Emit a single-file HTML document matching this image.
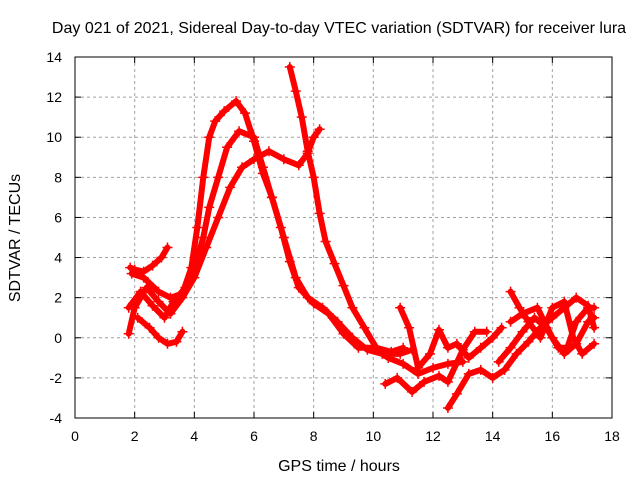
<!DOCTYPE html>
<html><head><meta charset="utf-8"><style>
body{margin:0;background:#fff}
svg{display:block;font-family:"Liberation Sans",sans-serif}
</style></head><body>
<svg id="chart" width="640" height="480">
<text x="339" y="33" text-anchor="middle" font-size="16">Day 021 of 2021, Sidereal Day-to-day VTEC variation (SDTVAR) for receiver lura</text>
<text x="339" y="471" text-anchor="middle" font-size="16">GPS time / hours</text>
<text transform="translate(20,238) rotate(-90)" text-anchor="middle" font-size="16">SDTVAR / TECUs</text>
<g id="grid"></g><g id="marks"></g>
<rect x="75" y="57" width="537" height="361" fill="none" stroke="#000" stroke-width="1"/>
<g id="ticks"></g>
</svg>
<script>
const xTicks=[0,2,4,6,8,10,12,14,16,18];
const yTicks=[-4,-2,0,2,4,6,8,10,12,14];
const t1=[[1.85,3.5],[2.0,3.4],[2.3,3.3],[2.6,3.6],[2.9,4],[3.1,4.5]];
const t2=[[1.8,1.5],[2.2,2.3],[2.6,1.6],[3.0,1.0],[3.3,1.8],[3.7,2.5],[4,3.5],[4.3,5],[4.5,6.5],[4.8,8],[5.1,9.5],[5.5,10.3],[6,10],[6.3,8.5],[6.6,7],[7,5],[7.4,3],[7.8,2],[8.3,1.5],[8.8,0.8],[9.3,0],[9.8,-0.6],[10.3,-0.8],[10.9,-0.8],[11.3,-0.6]];
const t3=[[1.9,3.2],[2.3,3.0],[2.8,2.3],[3.2,2.0],[3.6,2.2],[3.9,3.5],[4.1,5.5],[4.3,8],[4.5,10],[4.7,10.8],[5.0,11.3],[5.4,11.8],[5.7,11.2],[6.0,9.8],[6.3,8.2],[6.6,7],[6.9,5.5],[7.2,3.8],[7.5,2.5],[8,1.7],[8.5,1.2],[9,0.2],[9.5,-0.5],[10,-0.5],[10.5,-1],[11,-1.3],[11.5,-1.8],[12,-1.5],[12.5,-1.3],[13,-1.2]];
const t4=[[1.8,0.2],[2.0,1.5],[2.4,2.5],[2.8,1.8],[3.2,1.2],[3.6,2.0],[4,3],[4.4,4.5],[4.8,6],[5.2,7.5],[5.6,8.5],[6,8.9],[6.5,9.3],[7,8.9],[7.5,8.6],[7.8,9.2],[8,10],[8.2,10.4]];
const t5=[[7.2,13.5],[7.4,12.3],[7.6,11],[7.8,9.3],[8,8],[8.2,6.2],[8.4,4.8],[8.7,3.7],[9,2.6],[9.3,1.5],[9.7,0.5],[10.1,-0.5],[10.6,-0.7],[11,-0.5]];
const t6=[[2.1,1],[2.5,0.5],[2.8,0],[3.1,-0.3],[3.4,-0.2],[3.6,0.3]];
const t7=[[10.9,1.5],[11.2,0.5],[11.5,-1.5],[11.9,-0.8],[12.2,0.4],[12.5,-0.5],[12.8,-0.3],[13.2,-1],[13.6,-0.5],[14,0],[14.3,0.5]];
const t8=[[10.4,-2.3],[10.8,-2.0],[11.3,-2.7],[11.7,-2.2],[12.2,-1.9],[12.5,-2.2],[13,-0.6],[13.4,0.3],[13.8,0.3]];
const t9=[[12.5,-3.5],[12.8,-2.8],[13.2,-1.8],[13.6,-1.6],[14,-2],[14.4,-1.6],[14.8,-0.8],[15.2,-0.2],[15.6,0.5],[16,1.0],[16.4,1.5],[16.8,2],[17.2,1.6],[17.4,0.5]];
const t10=[[14.2,-1.2],[14.6,-0.5],[15,0.3],[15.4,1],[15.8,0.5],[16.2,-0.5],[16.5,-0.5],[16.8,0.8],[17.2,1.5],[17.4,1.5]];
const t11=[[14.6,2.3],[14.9,1.5],[15.2,0.8],[15.6,0],[16,1.5],[16.4,1.8],[16.7,0],[17,-0.8],[17.4,-0.3]];
const t12=[[14.6,0.8],[15,1.2],[15.5,1.5],[16,0],[16.4,-0.8],[16.8,-0.3],[17.2,0.8],[17.4,1]];
const tracks=[t1,t2,t3,t4,t5,t6,t7,t8,t9,t10,t11,t12];
const NS='http://www.w3.org/2000/svg';
function px(x){return 75+(x-0)*(537/18);}
function py(y){return 418-(y+4)*(361/18);}
const grid=document.getElementById('grid'),ticks=document.getElementById('ticks'),marks=document.getElementById('marks');
function mk(tag,attrs,parent){const e=document.createElementNS(NS,tag);for(const k in attrs)e.setAttribute(k,attrs[k]);parent.appendChild(e);return e;}
xTicks.forEach(v=>{
  const x=px(v);
  if(v>0&&v<18){const g=mk('line',{x1:x,x2:x,y1:57,y2:418,stroke:'#a0a0a0','stroke-dasharray':'3,3'},grid);
  
  }
  mk('line',{x1:x,x2:x,y1:418,y2:412,stroke:'#000'},ticks);
  mk('line',{x1:x,x2:x,y1:57,y2:63,stroke:'#000'},ticks);
  const t=mk('text',{x:x,y:441,'text-anchor':'middle','font-size':'14'},ticks);t.textContent=v;
  
  
});
yTicks.forEach(v=>{
  const y=py(v);
  if(v>-4&&v<14){const g=mk('line',{x1:75,x2:612,y1:y,y2:y,stroke:'#a0a0a0','stroke-dasharray':'3,3'},grid);
  
  }
  mk('line',{x1:75,x2:81,y1:y,y2:y,stroke:'#000'},ticks);
  mk('line',{x1:612,x2:606,y1:y,y2:y,stroke:'#000'},ticks);
  const t=mk('text',{x:62,y:y+5,'text-anchor':'end','font-size':'14'},ticks);t.textContent=v;
  
  
});
tracks.forEach((tr,i)=>{
  const pts=tr.map(p=>px(p[0])+','+py(p[1])).join(' ');
  const pl=mk('polyline',{points:pts,fill:'none',stroke:'#ff0000','stroke-width':'6','stroke-linejoin':'round','stroke-linecap':'round'},marks);
  
  
  tr.forEach(p=>{
    const x=px(p[0]),y=py(p[1]);
    const m=mk('path',{d:`M${x-5},${y}H${x+5}M${x},${y-5}V${y+5}`,stroke:'#ff0000','stroke-width':'1.5'},marks);
    
    
  });
});
</script>
</body></html>
